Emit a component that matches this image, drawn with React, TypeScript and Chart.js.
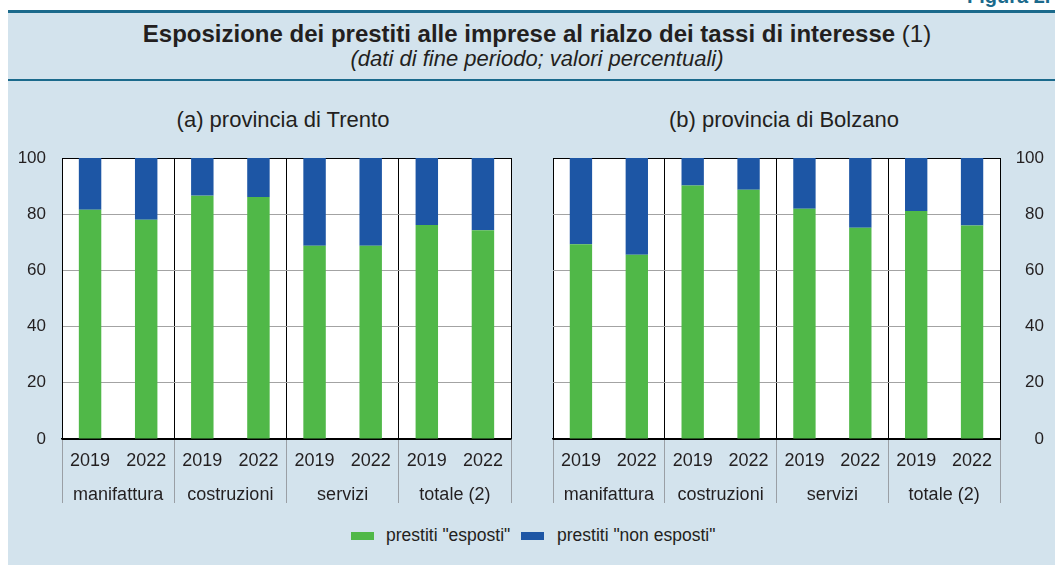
import React, { useEffect, useRef } from "react";
import { Chart, registerables } from "chart.js";

Chart.register(...registerables);

// ---- data ----
const years = ["2019", "2022", "2019", "2022", "2019", "2022", "2019", "2022"];
const sectors = ["manifattura", "costruzioni", "servizi", "totale (2)"];
const seriesNames = ['prestiti "esposti"', 'prestiti "non esposti"'];

const trentoEsposti = [81.6, 78.0, 86.6, 86.1, 68.8, 68.8, 76.2, 74.3];
const trentoNonEsposti = [18.4, 22.0, 13.4, 13.9, 31.2, 31.2, 23.8, 25.7];
const bolzanoEsposti = [69.3, 65.6, 90.2, 88.7, 81.9, 75.2, 81.1, 76.0];
const bolzanoNonEsposti = [30.7, 34.4, 9.8, 11.3, 18.1, 24.8, 18.9, 24.0];

const yMin = 0;
const yMax = 100;
const yStep = 20;

const title = "Esposizione dei prestiti alle imprese al rialzo dei tassi di interesse";
const titleNote = " (1)";
const subtitle = "(dati di fine periodo; valori percentuali)";
const panelTitles = ["(a) provincia di Trento", "(b) provincia di Bolzano"];
const figLabel = "Figura 2.";

// ---- style ----
const FONT = '"Liberation Sans", Arial, Helvetica, sans-serif';
const GREEN = "#50B848";
const BLUE = "#1D56A5";
const BG = "#D3E3ED";
const TEAL = "#1B6A8C";
const TEXT = "#231F20";
const GRID = "#A3A3A3";
const SEP = "#9A9FA5";
const NONE = "rgba(0,0,0,0)";

Chart.defaults.font.family = FONT;

const plotBg = {
  id: "plotBg",
  beforeDraw(chart: any) {
    const { ctx, chartArea: a } = chart;
    ctx.save();
    ctx.fillStyle = "#ffffff";
    ctx.fillRect(a.left, a.top, a.right - a.left, a.bottom - a.top);
    ctx.restore();
  },
};

function isBoundary(c: any) {
  return c.index === undefined || c.index % 2 === 0;
}

function makeConfig(esposti: number[], nonEsposti: number[], side: "left" | "right"): any {
  return {
    type: "bar",
    data: {
      labels: years,
      datasets: [
        {
          label: seriesNames[0],
          data: esposti,
          backgroundColor: GREEN,
          borderWidth: 0,
          barPercentage: 0.4,
          categoryPercentage: 1.0,
        },
        {
          label: seriesNames[1],
          data: nonEsposti,
          backgroundColor: BLUE,
          borderWidth: 0,
          barPercentage: 0.4,
          categoryPercentage: 1.0,
        },
      ],
    },
    options: {
      responsive: false,
      animation: false,
      events: [],
      layout: {
        padding:
          side === "left"
            ? { top: 18, right: 29, bottom: 14, left: 0 }
            : { top: 18, right: 11, bottom: 14, left: 13 },
      },
      plugins: {
        legend: { display: false },
        tooltip: { enabled: false },
        title: { display: false },
      },
      scales: {
        x: {
          type: "category",
          position: "bottom",
          stacked: true,
          offset: true,
          weight: 1,
          grid: {
            offset: true,
            drawTicks: true,
            tickLength: 64,
            lineWidth: 1,
            color: (c: any) => (isBoundary(c) ? "#000000" : NONE),
            tickColor: (c: any) => (isBoundary(c) ? SEP : NONE),
          },
          border: { display: true, color: "#000000", width: 1.5 },
          ticks: {
            padding: -53,
            autoSkip: false,
            maxRotation: 0,
            color: TEXT,
            font: { size: 18, family: FONT },
          },
          afterFit: (s: any) => {
            s.height = 37;
          },
        },
        x2: {
          type: "category",
          axis: "x",
          position: "bottom",
          labels: sectors,
          offset: true,
          weight: 2,
          grid: { display: false },
          border: { display: false },
          ticks: {
            padding: 0,
            autoSkip: false,
            maxRotation: 0,
            color: TEXT,
            font: { size: 18, family: FONT },
          },
          afterFit: (s: any) => {
            s.height = 30;
          },
        },
        y: {
          type: "linear",
          position: side,
          stacked: true,
          min: yMin,
          max: yMax,
          grid: {
            drawTicks: true,
            tickLength: side === "left" ? 16 : 0,
            tickColor: NONE,
            lineWidth: 1,
            color: (c: any) =>
              c.tick && (c.tick.value === yMax || c.tick.value === yMin) ? "#000000" : GRID,
          },
          border: { display: true, color: "#000000", width: 1 },
          ticks: {
            stepSize: yStep,
            padding: 0,
            crossAlign: side === "right" ? "far" : "near",
            color: TEXT,
            font: { size: 17, family: FONT },
          },
          afterFit: (s: any) => {
            s.width = side === "left" ? 62 : 44;
          },
        },
      },
    },
    plugins: [plotBg],
  };
}

function BarPanel(props: {
  esposti: number[];
  nonEsposti: number[];
  side: "left" | "right";
  left: number;
  width: number;
}) {
  const ref = useRef<HTMLCanvasElement | null>(null);
  useEffect(() => {
    if (!ref.current) return;
    const chart = new Chart(ref.current, makeConfig(props.esposti, props.nonEsposti, props.side));
    return () => chart.destroy();
  }, []);
  return (
    <canvas
      ref={ref}
      width={props.width}
      height={380}
      style={{ position: "absolute", left: props.left, top: 140, width: props.width, height: 380 }}
    />
  );
}

export default function App() {
  const abs: React.CSSProperties = { position: "absolute" };
  return (
    <div
      style={{
        position: "absolute",
        left: 0,
        top: 0,
        width: 1055,
        height: 565,
        overflow: "hidden",
        background: "#ffffff",
        fontFamily: FONT,
        color: TEXT,
      }}
    >
      <div style={{ ...abs, left: 8, top: 12, width: 1047, height: 553, background: BG }} />
      <div
        style={{
          ...abs,
          left: 967,
          top: -14,
          fontSize: 20,
          lineHeight: "20px",
          fontWeight: "bold",
          color: TEAL,
          whiteSpace: "nowrap",
        }}
      >
        {figLabel}
      </div>
      <div style={{ ...abs, left: 8, top: 10, width: 1047, height: 2.5, background: TEAL }} />
      <div style={{ ...abs, left: 8, top: 79, width: 1047, height: 2, background: TEAL }} />
      <div
        style={{
          ...abs,
          left: 0,
          top: 20,
          width: 1074,
          textAlign: "center",
          fontSize: 24,
          lineHeight: "27px",
          whiteSpace: "nowrap",
        }}
      >
        <span style={{ fontWeight: "bold" }}>{title}</span>
        <span>{titleNote}</span>
      </div>
      <div
        style={{
          ...abs,
          left: 0,
          top: 47,
          width: 1074,
          textAlign: "center",
          fontSize: 22,
          lineHeight: "24px",
          fontStyle: "italic",
          whiteSpace: "nowrap",
        }}
      >
        {subtitle}
      </div>
      <div
        style={{
          ...abs,
          left: 133,
          top: 107,
          width: 300,
          textAlign: "center",
          fontSize: 22,
          lineHeight: "26px",
          whiteSpace: "nowrap",
        }}
      >
        {panelTitles[0]}
      </div>
      <div
        style={{
          ...abs,
          left: 634,
          top: 107,
          width: 300,
          textAlign: "center",
          fontSize: 22,
          lineHeight: "26px",
          whiteSpace: "nowrap",
        }}
      >
        {panelTitles[1]}
      </div>

      <BarPanel esposti={trentoEsposti} nonEsposti={trentoNonEsposti} side="left" left={0} width={540} />
      <BarPanel esposti={bolzanoEsposti} nonEsposti={bolzanoNonEsposti} side="right" left={540} width={515} />

      <div style={{ ...abs, left: 351, top: 532, width: 23, height: 8, background: GREEN }} />
      <div
        style={{ ...abs, left: 386, top: 524, fontSize: 17.5, lineHeight: "22px", whiteSpace: "nowrap" }}
      >
        {seriesNames[0]}
      </div>
      <div style={{ ...abs, left: 521, top: 532, width: 23, height: 8, background: BLUE }} />
      <div
        style={{ ...abs, left: 557, top: 524, fontSize: 17.5, lineHeight: "22px", whiteSpace: "nowrap" }}
      >
        {seriesNames[1]}
      </div>
    </div>
  );
}
